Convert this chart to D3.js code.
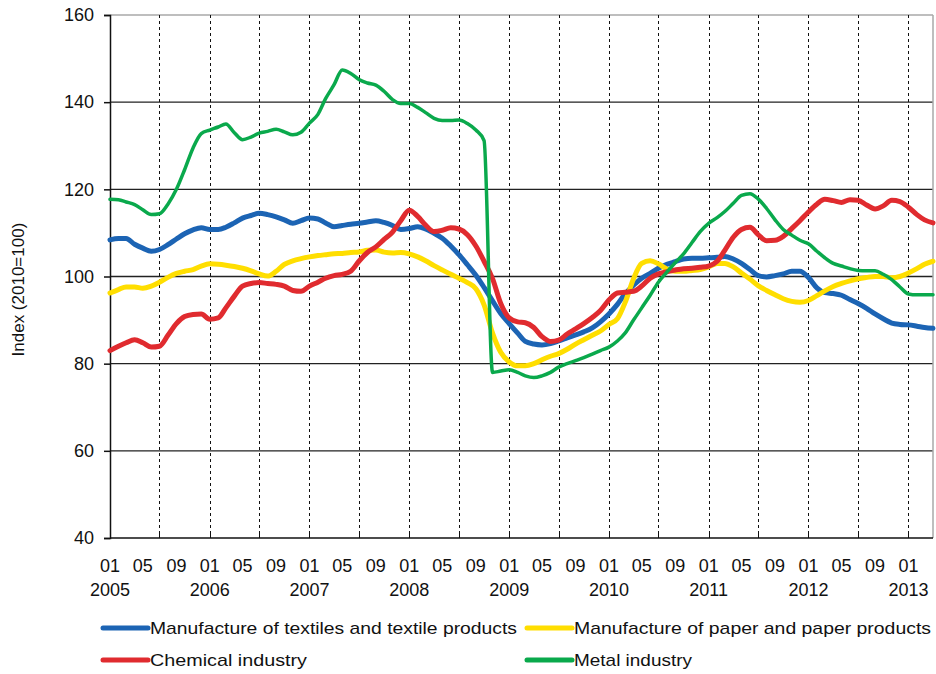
<!DOCTYPE html>
<html>
<head>
<meta charset="utf-8">
<script src="https://cdn.jsdelivr.net/npm/d3@7"></script>
<style>
  body { margin: 0; background: #fff; }
  svg text { font-family: "Liberation Sans", Arial, sans-serif; fill: #111; }
</style>
</head>
<body>
<div class="chart-box"></div>
<script>
// monthly index values, 2005-01 .. 2013-04 (2010=100)
var start_month = "2005-01";
var end_month = "2013-04";

var textiles = [108.4,108.7,108.7,107.4,106.5,105.8,106.2,107.3,108.6,109.8,
  110.7,111.2,110.8,110.8,111.3,112.3,113.4,114.0,114.5,114.2,
  113.7,113.0,112.2,112.8,113.4,113.2,112.3,111.4,111.7,112.0,
  112.2,112.5,112.8,112.4,111.7,110.8,111.0,111.4,110.9,109.9,
  108.8,107.0,105.0,102.7,100.3,97.5,94.4,91.5,89.2,87.0,
  85.1,84.5,84.3,84.6,85.2,85.9,86.6,87.3,88.2,89.6,
  91.4,93.6,96.0,98.0,99.6,100.7,101.9,102.8,103.4,104.0,
  104.2,104.2,104.3,104.4,104.6,104.0,103.0,101.6,100.2,99.9,
  100.2,100.6,101.2,101.2,99.8,97.4,96.3,96.1,95.7,94.7,
  93.8,92.7,91.4,90.3,89.3,89.0,88.9,88.6,88.3,88.1];

var paper = [96.2,97.0,97.6,97.6,97.3,97.8,98.7,99.8,100.7,101.2,
  101.6,102.4,102.9,102.8,102.6,102.3,101.9,101.3,100.6,100.1,
  101.2,102.8,103.6,104.1,104.5,104.8,105.0,105.2,105.3,105.5,
  105.6,106.0,106.1,105.6,105.4,105.5,105.2,104.5,103.6,102.5,
  101.5,100.5,99.6,98.6,97.2,93.5,87.0,82.6,80.4,79.5,
  79.5,80.0,80.9,81.7,82.3,83.3,84.5,85.5,86.5,87.5,
  89.0,90.3,94.0,99.5,103.0,103.6,102.9,101.7,101.2,101.2,
  101.4,101.6,102.2,103.0,103.0,102.2,100.8,99.4,97.9,96.8,
  95.8,94.9,94.3,94.1,94.5,95.6,96.7,97.7,98.4,99.0,
  99.5,99.8,100.0,100.0,99.7,100.0,100.8,101.8,102.8,103.5];

var chemical = [83.0,84.0,84.8,85.5,84.8,83.8,84.0,86.5,89.2,90.8,
  91.3,91.4,90.2,90.5,92.8,95.5,97.8,98.4,98.6,98.4,
  98.2,97.8,96.8,96.6,97.8,98.7,99.6,100.2,100.5,101.2,
  103.5,105.5,106.8,108.5,110.2,112.8,115.2,113.8,111.8,110.3,
  110.6,111.2,110.9,109.6,107.0,103.5,99.5,93.8,90.5,89.6,
  89.4,88.3,86.2,85.1,85.4,86.8,88.0,89.2,90.6,92.2,
  94.6,96.2,96.4,96.6,97.8,99.6,100.6,101.1,101.5,101.8,
  101.9,102.1,102.4,103.5,106.0,109.0,110.8,111.3,109.6,108.2,
  108.3,109.2,111.0,112.8,114.8,116.6,117.7,117.4,117.0,117.6,
  117.5,116.4,115.5,116.2,117.5,117.2,115.9,114.2,113.0,112.3];

var metal = [117.7,117.6,117.1,116.5,115.3,114.2,114.4,116.6,120.0,124.5,
  129.5,132.8,133.6,134.3,135.0,133.0,131.4,132.0,132.9,133.3,
  133.8,133.2,132.5,133.1,135.2,137.2,140.8,144.0,147.4,146.6,
  145.2,144.4,143.9,142.5,140.6,139.7,139.7,138.8,137.6,136.3,
  135.8,135.8,135.9,135.1,133.6,131.2,78.0,78.3,78.6,78.0,
  77.2,76.8,77.2,78.0,79.2,80.0,80.7,81.4,82.2,83.0,
  83.8,85.2,87.0,90.0,92.8,95.7,98.7,101.0,103.2,105.2,
  107.8,110.3,112.2,113.5,114.9,116.8,118.6,119.0,117.8,115.6,
  113.0,110.8,109.5,108.3,107.5,105.8,104.3,103.0,102.4,101.8,
  101.4,101.3,101.3,100.5,99.3,97.6,96.0,95.8,95.8,95.8];

var series_names = ["Manufacture of textiles and textile products",
  "Manufacture of paper and paper products",
  "Chemical industry",
  "Metal industry"];
var series_colors = ["#1c64b4", "#ffde00", "#e02b2f", "#0aa94c"];
var series_widths = [5, 5, 5, 3.5];
var y_ticks = [40, 60, 80, 100, 120, 140, 160];

var width = 936,
    height = 674,
    margin = {top: 15, right: 3, bottom: 136, left: 110};

var parse_month = d3.utcParse("%Y-%m");
var t0 = parse_month(start_month),
    t1 = parse_month(end_month);
var months = d3.utcMonth.range(t0, d3.utcMonth.offset(t1, 1));

var svg = d3.select('.chart-box').append("svg")
    .attr("width", width)
    .attr("height", height);

var x = d3.scaleUtc()
    .domain([t0, t1])
    .range([margin.left, width - margin.right]);

var y = d3.scaleLinear()
    .domain([40, 160])
    .range([height - margin.bottom, margin.top]);

// horizontal grid
svg.append("g")
  .selectAll("line")
  .data(y_ticks.filter(function(d) { return d > 40; }))
  .enter().append("line")
    .attr("x1", margin.left)
    .attr("x2", width - margin.right)
    .attr("y1", function(d) { return y(d); })
    .attr("y2", function(d) { return y(d); })
    .attr("stroke", function(d) { return d == 160 ? "#a8a8a8" : "#222"; })
    .attr("stroke-width", function(d) { return d == 160 ? 1.5 : 1.3; });

// vertical dashed grid, every 6 months
var half_years = d3.utcMonth.every(6).range(d3.utcMonth.offset(t0, 1), t1);
svg.append("g")
  .selectAll("line")
  .data(half_years)
  .enter().append("line")
    .attr("x1", function(d) { return Math.round(x(d)) + 0.5; })
    .attr("x2", function(d) { return Math.round(x(d)) + 0.5; })
    .attr("y1", y(160))
    .attr("y2", y(40))
    .attr("stroke", "#111")
    .attr("stroke-width", 1)
    .attr("stroke-dasharray", "3,3");

// right border
svg.append("line")
  .attr("x1", width - margin.right).attr("x2", width - margin.right)
  .attr("y1", y(160)).attr("y2", y(40))
  .attr("stroke", "#a8a8a8").attr("stroke-width", 1.5);

// left axis
var y_axis = d3.axisLeft(y).tickValues(y_ticks).tickSize(6).tickPadding(10);
var gy = svg.append("g")
  .attr("transform", "translate(" + margin.left + ",0)")
  .call(y_axis);
gy.select(".domain").attr("stroke", "#111").attr("stroke-width", 1.5);
gy.selectAll(".tick line").attr("stroke", "#111").attr("stroke-width", 1.5);
gy.selectAll("text").style("font-size", "18px").attr("fill", "#222");

// bottom axis: ticks every 6 months, labels 01/05/09
var gx = svg.append("g")
  .attr("transform", "translate(0," + y(40) + ")");
gx.append("line")
  .attr("x1", margin.left).attr("x2", width - margin.right)
  .attr("y1", 0).attr("y2", 0)
  .attr("stroke", "#111").attr("stroke-width", 1.5);
gx.selectAll(".tk")
  .data(half_years)
  .enter().append("line")
    .attr("class", "tk")
    .attr("x1", function(d) { return Math.round(x(d)) + 0.5; })
    .attr("x2", function(d) { return Math.round(x(d)) + 0.5; })
    .attr("y1", -6).attr("y2", 0)
    .attr("stroke", "#111");

var label_months = d3.utcMonth.every(4).range(t0, d3.utcMonth.offset(t1, 1));
var fmt_m = d3.utcFormat("%m");
gx.selectAll(".mlab")
  .data(label_months)
  .enter().append("text")
    .attr("class", "mlab")
    .attr("x", function(d) { return x(d); })
    .attr("y", 34)
    .attr("text-anchor", "middle")
    .style("font-size", "18px")
    .text(function(d) { return fmt_m(d); });

var years = label_months.filter(function(d) { return d.getUTCMonth() == 0; });
gx.selectAll(".ylab")
  .data(years)
  .enter().append("text")
    .attr("class", "ylab")
    .attr("x", function(d) { return x(d); })
    .attr("y", 58)
    .attr("text-anchor", "middle")
    .style("font-size", "18px")
    .text(function(d) { return d.getUTCFullYear(); });

// y title
svg.append("text")
  .attr("transform", "translate(24," + y(97) + ") rotate(-90)")
  .attr("text-anchor", "middle")
  .style("font-size", "17px")
  .text("Index (2010=100)");

// lines
var all_series = [textiles, paper, chemical, metal];
var line = d3.line()
    .x(function(d, i) { return x(months[i]); })
    .y(function(d) { return y(d); })
    .curve(d3.curveMonotoneX);

svg.append("g")
  .selectAll("path")
  .data(all_series)
  .enter().append("path")
    .attr("d", line)
    .attr("fill", "none")
    .attr("stroke", function(d, i) { return series_colors[i]; })
    .attr("stroke-width", function(d, i) { return series_widths[i]; })
    .attr("stroke-linejoin", "round")
    .attr("stroke-linecap", "round");

// legend
var legend_pos = [
  {lx: 103, ty: 628, len: 367},
  {lx: 527, ty: 628, len: 357},
  {lx: 103, ty: 660, len: 157},
  {lx: 527, ty: 660, len: 118}
];
var lg = svg.append("g")
  .selectAll("g")
  .data(series_names)
  .enter().append("g")
    .attr("transform", function(d, i) { return "translate(" + legend_pos[i].lx + "," + legend_pos[i].ty + ")"; });
lg.append("line")
  .attr("x1", 0).attr("x2", 45)
  .attr("stroke", function(d, i) { return series_colors[i]; })
  .attr("stroke-width", 5)
  .attr("stroke-linecap", "round");
lg.append("text")
  .attr("x", 47)
  .attr("y", 6)
  .style("font-size", "17px")
  .attr("textLength", function(d, i) { return legend_pos[i].len; })
  .attr("lengthAdjust", "spacingAndGlyphs")
  .text(function(d) { return d; });
</script>
</body>
</html>
